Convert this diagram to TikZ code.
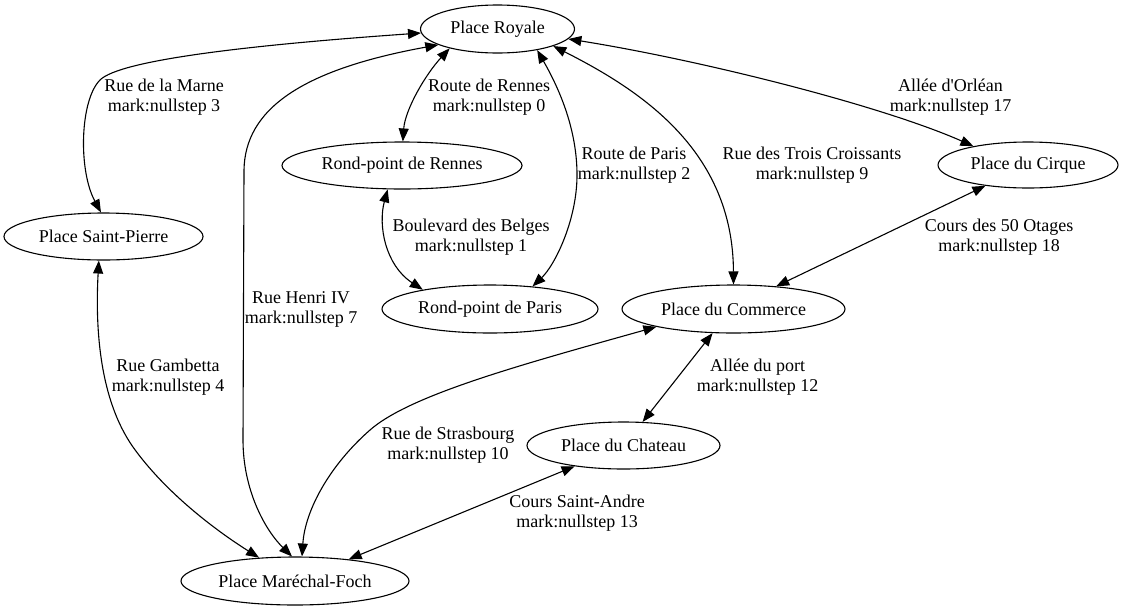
\documentclass[tikz,border=0pt]{standalone}
\usepackage{fontspec}
\setmainfont{Liberation Serif}[Ligatures=TeXOff]
\usetikzlibrary{shapes.geometric,arrows.meta}
\begin{document}
\begin{tikzpicture}[x=1pt,y=-1pt,
  every node/.style={font=\fontsize{18}{20}\selectfont},
  place/.style={draw, ellipse, line width=1.1pt, inner sep=0pt},
  lbl/.style={align=center, inner sep=0pt},
  road/.style={draw, line width=1.1pt, {Triangle[length=13pt,width=10pt]}-{Triangle[length=13pt,width=10pt]}}]
\useasboundingbox (0,0) rectangle (1123,611);
\fill[white] (0,0) rectangle (1123,611);
% places
\node[place, minimum width=154pt, minimum height=48pt] (R) at (497.5,29) {Place Royale};
\node[place, minimum width=240pt, minimum height=47pt] (RR) at (402,165.5) {Rond-point de Rennes};
\node[place, minimum width=199pt, minimum height=47pt] (SP) at (103.5,236.5) {Place Saint-Pierre};
\node[place, minimum width=216pt, minimum height=48pt] (RP) at (490,309) {Rond-point de Paris};
\node[place, minimum width=223pt, minimum height=48pt] (PC) at (733.5,309) {Place du Commerce};
\node[place, minimum width=180pt, minimum height=46pt] (CQ) at (1028,165) {Place du Cirque};
\node[place, minimum width=193pt, minimum height=47pt] (CH) at (623.5,445.5) {Place du Chateau};
\node[place, minimum width=228pt, minimum height=48pt] (MF) at (295,581) {Place Maréchal-Foch};
% roads
\draw[road] (R.183) .. controls (250,45) and (120,60) .. (100,80) .. controls (80,100) and (78,170) .. (SP.96);
\draw[road] (R.195) .. controls (300,70) and (245,110) .. (244,170) -- (243,440) .. controls (243,490) and (265,530) .. (MF.97);
\draw[road] (R.202) .. controls (425,75) and (405,110) .. (RR.88);
\draw[road] (RR.239) .. controls (378,225) and (385,265) .. (RP.164);
\draw[road] (R.-28) .. controls (560,90) and (577,130) .. (577,175) .. controls (577,220) and (555,265) .. (RP.28);
\draw[road] (R.-17) .. controls (640,90) and (733,150) .. (PC.90);
\draw[road] (R.-8) .. controls (700,60) and (880,105) .. (CQ.161);
\draw[road] (CQ.206) -- (PC.28);
\draw[road] (SP.259) .. controls (95,330) and (100,400) .. (133,447) .. controls (165,492) and (215,530) .. (MF.147);
\draw[road] (PC.193) .. controls (520,365) and (410,395) .. (370,430) .. controls (330,465) and (305,510) .. (MF.74);
\draw[road] (PC.229) -- (CH.51);
\draw[road] (CH.203) -- (MF.22);
% labels
\node[lbl] (l3) at (164,97) {Rue de la Marne\\mark:nullstep 3};
\node[lbl] (l0) at (489,97) {Route de Rennes\\mark:nullstep 0};
\node[lbl] (l2) at (634,165) {Route de Paris\\mark:nullstep 2};
\node[lbl] (l9) at (812,165) {Rue des Trois Croissants\\mark:nullstep 9};
\node[lbl] (l17) at (950.5,97) {Allée d'Orléan\\mark:nullstep 17};
\node[lbl] (l1) at (471,237) {Boulevard des Belges\\mark:nullstep 1};
\node[lbl] (l18) at (999,237) {Cours des 50 Otages\\mark:nullstep 18};
\node[lbl] (l7) at (301,309) {Rue Henri IV\\mark:nullstep 7};
\node[lbl] (l4) at (168,377) {Rue Gambetta\\mark:nullstep 4};
\node[lbl] (l12) at (757.5,377) {Allée du port\\mark:nullstep 12};
\node[lbl] (l10) at (448,445) {Rue de Strasbourg\\mark:nullstep 10};
\node[lbl] (l13) at (577,513) {Cours Saint-Andre\\mark:nullstep 13};
\end{tikzpicture}
\end{document}
